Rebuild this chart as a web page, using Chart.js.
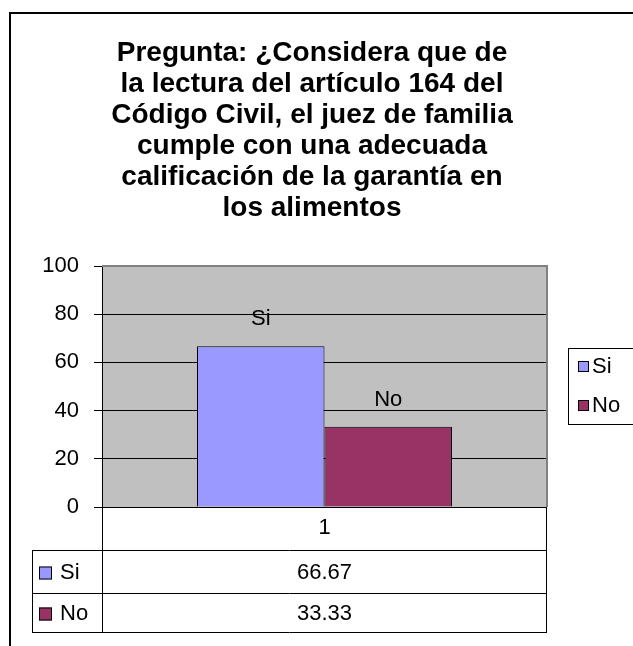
<!DOCTYPE html>
<html>
<head>
<meta charset="utf-8">
<script src="https://cdn.jsdelivr.net/npm/chart.js@4/dist/chart.umd.min.js"></script>
<style>
  html, body { margin: 0; padding: 0; background: #fff; }
  canvas { display: block; }
</style>
</head>
<body>
<canvas id="grafico" width="633" height="646"></canvas>
<script>
// datos del grafico
const titulo = [
    'Pregunta: ¿Considera que de',
    'la lectura del artículo 164 del',
    'Código Civil, el juez de familia',
    'cumple con una adecuada',
    'calificación de la garantía en',
    'los alimentos'
];
const categorias = ['1'];
const series = ['Si', 'No'];
const valoresSi = [66.67];
const valoresNo = [33.33];
const colores = ['#9999FF', '#993366'];
const ticksY = [0, 20, 40, 60, 80, 100];

const fuente = 'Arial, sans-serif';

const dibujoExtra = {
    id: 'dibujoExtra',
    beforeDraw(chart) {
        const ctx = chart.ctx;
        const area = chart.chartArea;
        ctx.save();
        ctx.fillStyle = '#fff';
        ctx.fillRect(0, 0, chart.width, chart.height);

        // marco exterior
        ctx.strokeStyle = '#000';
        ctx.lineWidth = 2;
        ctx.beginPath();
        ctx.moveTo(10, chart.height + 2);
        ctx.lineTo(10, 13);
        ctx.lineTo(chart.width + 2, 13);
        ctx.stroke();

        // fondo del area de trazado
        ctx.fillStyle = '#C0C0C0';
        ctx.fillRect(area.left, area.top, area.right - area.left, area.bottom - area.top);

        // titulo
        ctx.fillStyle = '#000';
        ctx.font = 'bold 28px ' + fuente;
        ctx.textAlign = 'center';
        ctx.textBaseline = 'middle';
        titulo.forEach(function(linea, i) {
            ctx.fillText(linea, 312, 53 + i * 31);
        });
        ctx.restore();
    },
    afterDatasetsDraw(chart) {
        const ctx = chart.ctx;
        ctx.save();
        ctx.font = '22px ' + fuente;
        ctx.fillStyle = '#000';
        ctx.textAlign = 'center';
        ctx.textBaseline = 'middle';
        chart.data.datasets.forEach(function(ds, i) {
            chart.getDatasetMeta(i).data.forEach(function(bar) {
                ctx.fillText(ds.label, bar.x, bar.y - 27);
            });
        });
        ctx.restore();
    },
    afterDraw(chart) {
        const ctx = chart.ctx;
        const area = chart.chartArea;
        const x = chart.scales.x;
        ctx.save();

        // borde gris del area de trazado
        ctx.strokeStyle = '#808080';
        ctx.lineWidth = 2;
        ctx.beginPath();
        ctx.moveTo(area.left, area.top);
        ctx.lineTo(area.right, area.top);
        ctx.lineTo(area.right, area.bottom);
        ctx.stroke();

        // tabla de datos
        const izq = 32;
        const filas = [area.bottom, area.bottom + 43, area.bottom + 86, area.bottom + 125];
        ctx.strokeStyle = '#000';
        ctx.lineWidth = 1;
        ctx.beginPath();
        ctx.moveTo(area.left, filas[0] + 0.5);
        ctx.lineTo(area.right, filas[0] + 0.5);
        for (let i = 1; i < filas.length; i++) {
            ctx.moveTo(izq, filas[i] + 0.5);
            ctx.lineTo(area.right, filas[i] + 0.5);
        }
        ctx.moveTo(area.left + 0.5, filas[0]);
        ctx.lineTo(area.left + 0.5, filas[3]);
        ctx.moveTo(izq + 0.5, filas[1]);
        ctx.lineTo(izq + 0.5, filas[3]);
        ctx.moveTo(area.right - 0.5, filas[0]);
        ctx.lineTo(area.right - 0.5, filas[3]);
        ctx.stroke();

        ctx.font = '22px ' + fuente;
        ctx.fillStyle = '#000';
        ctx.textAlign = 'center';
        ctx.textBaseline = 'middle';
        const centro = (area.left + area.right) / 2;
        categorias.forEach(function(c, i) {
            ctx.fillText(c, x.getPixelForValue(i), filas[0] + 21);
        });
        chart.data.datasets.forEach(function(ds, i) {
            const yc = (filas[i + 1] + filas[i + 2]) / 2 + 1;
            ctx.textAlign = 'center';
            ctx.fillStyle = '#000';
            ctx.fillText(ds.data[0].toFixed(2), centro, yc);
            ctx.fillStyle = ds.backgroundColor;
            ctx.fillRect(39, yc - 6, 13, 13);
            ctx.strokeRect(39.5, yc - 5.5, 12, 12);
            ctx.fillStyle = '#000';
            ctx.textAlign = 'left';
            ctx.fillText(ds.label, 60, yc);
        });

        // leyenda
        ctx.lineWidth = 1;
        ctx.strokeRect(568.5, 348.5, 70, 76);
        chart.data.datasets.forEach(function(ds, i) {
            const yc = 367 + i * 39;
            ctx.fillStyle = ds.backgroundColor;
            ctx.fillRect(578, yc - 6, 11, 11);
            ctx.strokeRect(578.5, yc - 5.5, 10, 10);
            ctx.fillStyle = '#000';
            ctx.textAlign = 'left';
            ctx.fillText(ds.label, 592, yc);
        });
        ctx.restore();
    }
};

new Chart(document.getElementById('grafico'), {
    type: 'bar',
    data: {
        labels: categorias,
        datasets: [{
            label: series[0],
            data: valoresSi,
            backgroundColor: colores[0],
            borderColor: '#000',
            borderWidth: 1,
            barPercentage: 1,
            categoryPercentage: 0.573
        }, {
            label: series[1],
            data: valoresNo,
            backgroundColor: colores[1],
            borderColor: '#000',
            borderWidth: 1,
            barPercentage: 1,
            categoryPercentage: 0.573
        }]
    },
    options: {
        responsive: false,
        animation: false,
        layout: {
            padding: { top: 266, bottom: 139, left: 0, right: 86 }
        },
        plugins: {
            legend: { display: false },
            tooltip: { enabled: false }
        },
        scales: {
            x: { display: false },
            y: {
                min: ticksY[0],
                max: ticksY[ticksY.length - 1],
                afterFit: function(scale) { scale.width = 102; },
                afterBuildTicks: function(scale) {
                    scale.ticks = ticksY.map(function(v) { return { value: v }; });
                },
                ticks: {
                    color: '#000',
                    padding: 15,
                    font: { family: fuente, size: 22 }
                },
                grid: {
                    color: function(c) { return c.tick && c.tick.value === 100 ? '#808080' : '#000'; },
                    tickColor: '#000',
                    tickLength: 8,
                    lineWidth: 1
                },
                border: { display: true, color: '#000', width: 1 }
            }
        }
    },
    plugins: [dibujoExtra]
});
</script>
</body>
</html>
